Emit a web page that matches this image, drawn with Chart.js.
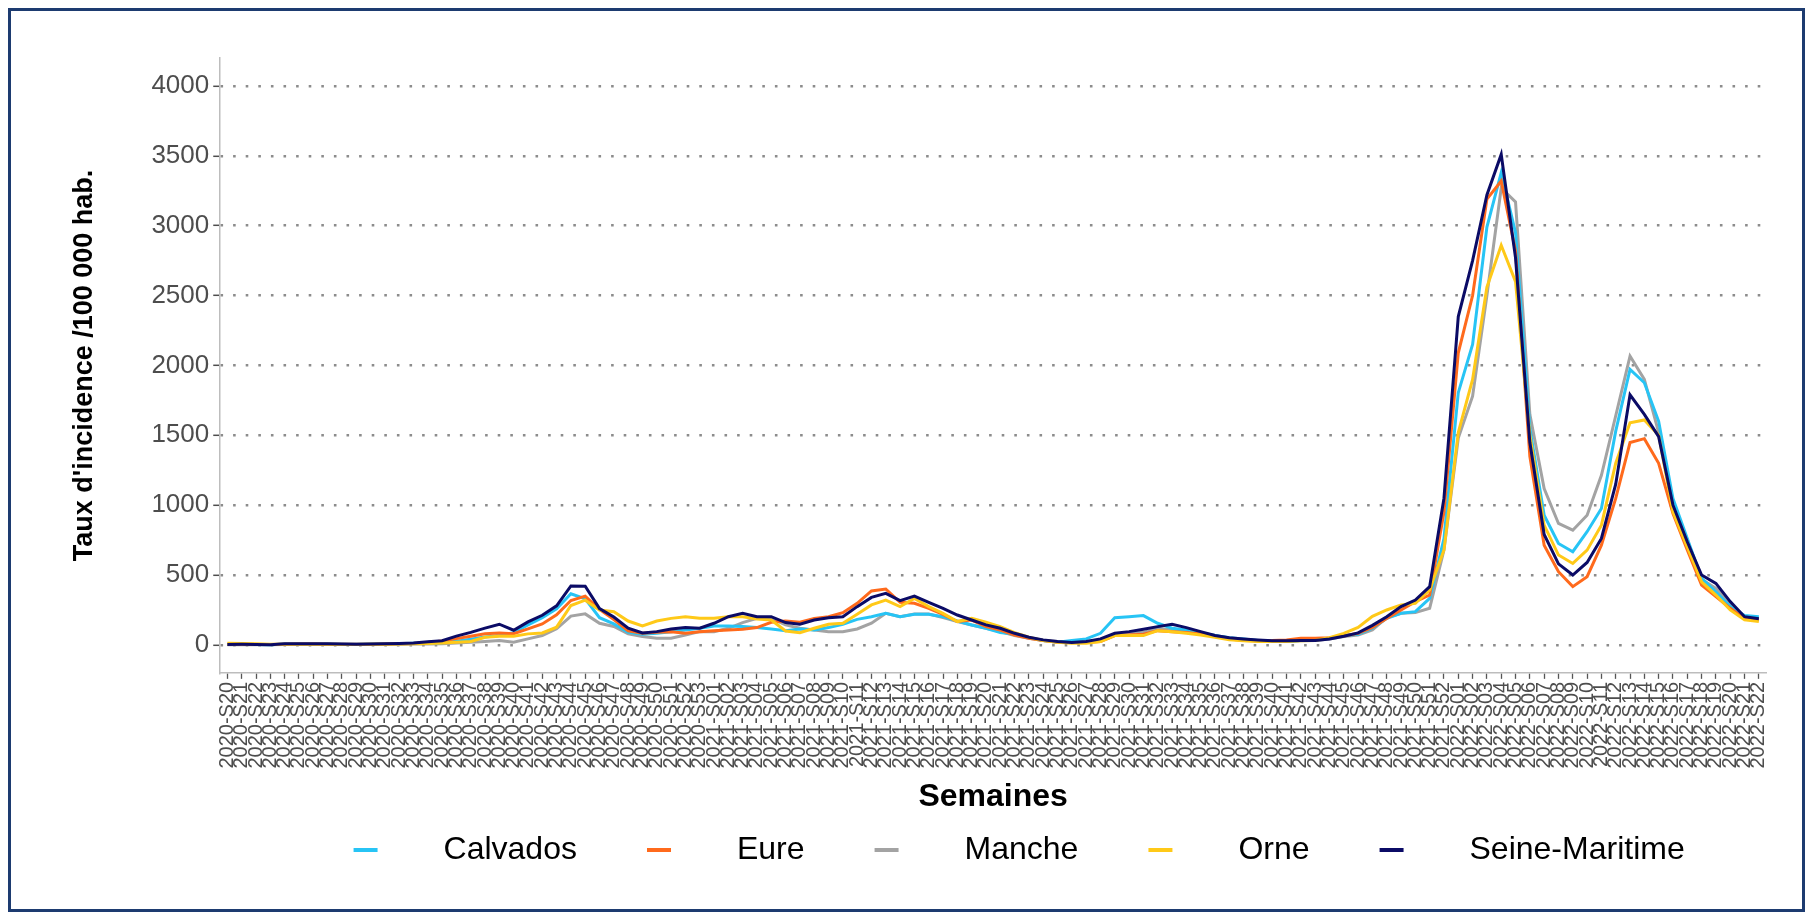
<!DOCTYPE html>
<html lang="fr">
<head>
<meta charset="UTF-8">
<title>Taux d'incidence par département</title>
<style>
  html, body { margin: 0; padding: 0; background: #fff; }
  #wrap { position: relative; width: 1811px; height: 916px; }
  #wrap canvas { position: absolute; left: 0; top: 0; }
  #frame {
    position: absolute; left: 8px; top: 8px; width: 1797px; height: 904px;
    box-sizing: border-box; border: 3px solid #1d3b70; pointer-events: none;
  }
</style>
<script src="https://cdn.jsdelivr.net/npm/chart.js@4"></script>
</head>
<body>
<div id="wrap">
  <canvas id="chart" width="1811" height="916"></canvas>
  <div id="frame"></div>
</div>
<script>
// semaines ISO
const weeks = [
  '2020-S20','2020-S21','2020-S22','2020-S23','2020-S24','2020-S25','2020-S26','2020-S27','2020-S28','2020-S29',
  '2020-S30','2020-S31','2020-S32','2020-S33','2020-S34','2020-S35','2020-S36','2020-S37','2020-S38','2020-S39',
  '2020-S40','2020-S41','2020-S42','2020-S43','2020-S44','2020-S45','2020-S46','2020-S47','2020-S48','2020-S49',
  '2020-S50','2020-S51','2020-S52','2020-S53',
  '2021-S01','2021-S02','2021-S03','2021-S04','2021-S05','2021-S06','2021-S07','2021-S08','2021-S09','2021-S10',
  '2021-S11','2021-S12','2021-S13','2021-S14','2021-S15','2021-S16','2021-S17','2021-S18','2021-S19','2021-S20',
  '2021-S21','2021-S22','2021-S23','2021-S24','2021-S25','2021-S26','2021-S27','2021-S28','2021-S29','2021-S30',
  '2021-S31','2021-S32','2021-S33','2021-S34','2021-S35','2021-S36','2021-S37','2021-S38','2021-S39','2021-S40',
  '2021-S41','2021-S42','2021-S43','2021-S44','2021-S45','2021-S46','2021-S47','2021-S48','2021-S49','2021-S50',
  '2021-S51','2021-S52',
  '2022-S01','2022-S02','2022-S03','2022-S04','2022-S05','2022-S06','2022-S07','2022-S08','2022-S09','2022-S10',
  '2022-S11','2022-S12','2022-S13','2022-S14','2022-S15','2022-S16','2022-S17','2022-S18','2022-S19','2022-S20',
  '2022-S21','2022-S22'
];

// taux d'incidence /100 000 hab.
const calvados = [
  4,3,3,2,6,7,7,6,5,5,6,8,9,12,
  12,16,26,40,57,68,88,143,194,258,366,330,195,150,
  90,76,83,95,107,119,136,136,131,124,114,102,114,107,
  124,148,183,202,226,202,219,219,202,171,143,119,88,76,
  52,31,19,31,43,83,195,202,210,155,119,107,88,67,
  52,43,31,24,24,31,36,48,67,76,119,190,226,238,
  333,760,1805,2150,2990,3380,2950,1550,928,726,667,810,976,1530,
  1971,1876,1600,1048,762,476,380,274,210,202
];
const eure = [
  5,4,3,3,5,6,6,5,5,4,5,6,8,10,
  18,28,45,62,80,86,80,115,150,215,318,349,255,182,
  100,83,90,95,83,95,102,107,112,124,162,171,162,190,
  202,231,298,386,400,305,298,262,219,167,178,131,107,71,
  48,31,19,17,19,24,67,71,76,102,95,88,79,60,
  43,31,29,31,36,48,48,52,64,83,125,190,250,310,
  357,950,2090,2500,3190,3320,2820,1350,714,524,417,488,714,1048,
  1448,1476,1300,940,679,429,345,262,190,179
];
const manche = [
  2,2,1,1,3,4,4,3,3,3,3,4,5,6,
  6,8,14,19,24,31,19,43,67,115,206,222,155,132,
  80,60,48,48,71,95,95,119,160,190,190,143,119,107,
  95,95,114,155,226,202,221,221,195,167,143,119,95,67,
  48,31,24,19,24,36,76,83,90,119,107,95,83,67,
  48,36,29,24,24,29,31,43,60,71,107,195,226,231,
  262,680,1480,1780,2500,3270,3170,1650,1119,869,821,928,1214,1640,
  2067,1900,1520,1000,750,470,405,298,195,186
];
const orne = [
  12,10,8,5,4,4,5,4,3,3,4,5,6,8,
  10,14,19,24,55,62,62,79,86,127,282,320,250,238,
  171,136,171,190,202,190,190,202,202,186,178,100,88,119,
  148,155,219,286,321,274,333,274,226,167,190,162,131,88,
  55,31,19,12,12,24,67,67,67,102,95,83,71,55,
  36,29,24,24,24,29,31,52,83,125,205,250,286,298,
  393,680,1519,1900,2560,2860,2600,1500,857,643,583,678,857,1300,
  1590,1610,1500,952,702,452,357,250,179,167
];
const seineMaritime = [
  3,4,3,2,8,9,9,8,6,5,7,8,10,14,
  22,30,63,90,120,148,105,165,212,280,422,420,260,200,
  120,85,95,114,124,119,155,202,226,202,202,160,148,178,
  195,202,274,340,369,317,350,305,262,214,178,143,119,83,
  55,36,24,17,24,43,83,95,112,131,148,124,95,67,
  52,43,36,29,29,31,31,43,62,86,140,202,274,321,
  417,1050,2350,2750,3220,3510,2770,1450,790,580,500,590,762,1150,
  1790,1650,1490,1000,738,500,440,310,202,188
];

const yTicks = [0, 500, 1000, 1500, 2000, 2500, 3000, 3500, 4000];

const departements = ['Calvados', 'Eure', 'Manche', 'Orne', 'Seine-Maritime'];
const series = [calvados, eure, manche, orne, seineMaritime];
const colors = ['#27c4f5', '#ff6a1c', '#a3a3a3', '#ffc918', '#0b0b66'];
const drawOrder = [3, 2, 4, 1, 0];

const FONT = "'Liberation Sans', Arial, sans-serif";
Chart.defaults.font.family = FONT;
Chart.defaults.color = '#4d4d4d';

// petit trait de légende, avec de l'espace autour
function legendSwatch(color) {
  const c = document.createElement('canvas');
  c.width = 126;
  c.height = 6;
  const g = c.getContext('2d');
  g.fillStyle = color;
  g.fillRect(52, 1, 24, 4);
  return c;
}

const datasets = departements.map((name, i) => ({
  label: name,
  data: series[i],
  borderColor: colors[i],
  backgroundColor: colors[i],
  borderWidth: 3,
  pointRadius: 0,
  pointStyle: legendSwatch(colors[i]),
  tension: 0,
  fill: false,
  order: drawOrder[i]
}));

new Chart(document.getElementById('chart'), {
  type: 'line',
  data: { labels: weeks, datasets: datasets },
  options: {
    responsive: false,
    animation: false,
    devicePixelRatio: 1,
    layout: { padding: { top: 58, right: 45, bottom: 40, left: 50 } },
    plugins: {
      tooltip: { enabled: false },
      legend: {
        position: 'bottom',
        fullSize: false,
        labels: {
          usePointStyle: true,
          pointStyleWidth: 126,
          padding: 18,
          color: '#000',
          font: { size: 32 },
          sort: (a, b) => a.datasetIndex - b.datasetIndex
        }
      }
    },
    scales: {
      x: {
        type: 'category',
        offset: true,
        grid: {
          offset: false,
          drawOnChartArea: false,
          drawTicks: true,
          tickLength: 6,
          tickColor: '#555',
          tickWidth: 1.3
        },
        border: { display: true, color: '#bdbdbd', width: 1.5 },
        ticks: {
          autoSkip: false,
          minRotation: 90,
          maxRotation: 90,
          padding: 3,
          color: '#4d4d4d',
          font: { size: 20 }
        },
        title: {
          display: true,
          text: 'Semaines',
          color: '#000',
          font: { size: 32, weight: 'bold' },
          padding: { top: 6, bottom: 0 }
        }
      },
      y: {
        min: -200,
        max: 4200,
        afterBuildTicks: (scale) => { scale.ticks = yTicks.map(v => ({ value: v })); },
        grid: {
          color: '#8c8c8c',
          lineWidth: 2.6,
          tickLength: 7,
          tickColor: '#4d4d4d',
          tickWidth: 1.5,
          tickBorderDash: []
        },
        border: { display: true, color: '#bdbdbd', width: 1.5, dash: [2.6, 10] },
        ticks: {
          padding: 4,
          color: '#4d4d4d',
          font: { size: 26 },
          callback: (v) => String(v)
        },
        title: {
          display: true,
          text: "Taux d'incidence /100 000 hab.",
          color: '#000',
          font: { size: 27, weight: 'bold' },
          padding: { top: 18, bottom: 47 }
        }
      }
    }
  }
});
</script>
</body>
</html>
